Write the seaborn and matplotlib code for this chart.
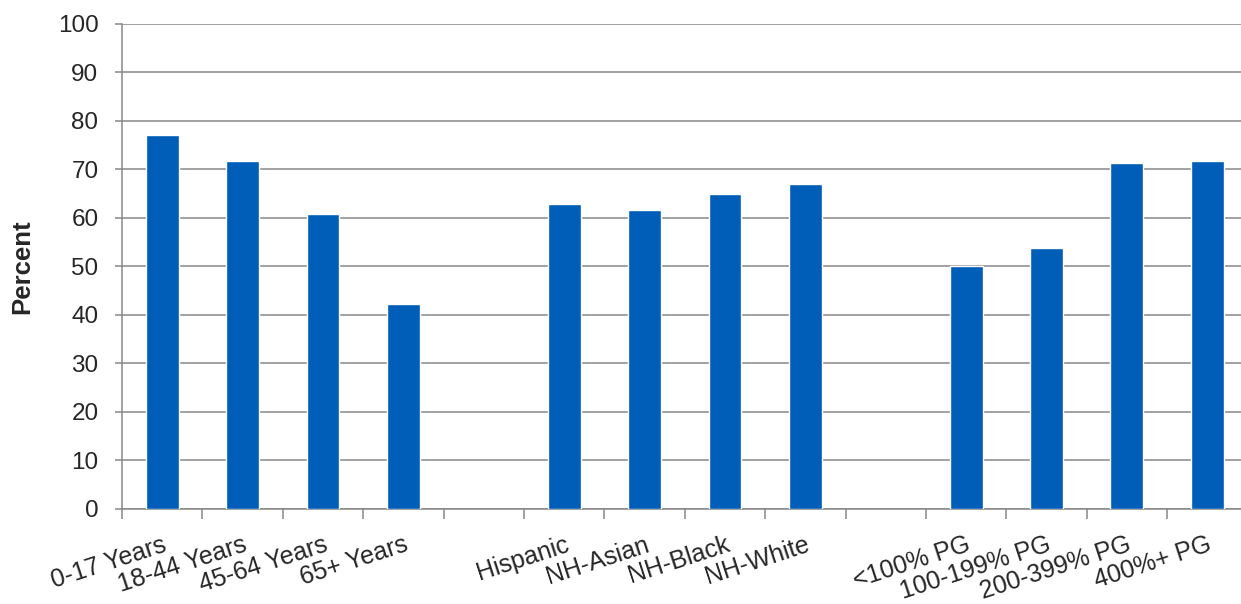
import numpy as np
import pandas as pd
import matplotlib
matplotlib.use("Agg")
import matplotlib.pyplot as plt
import seaborn as sns

# categories (blank entries are the gaps between groups)
categories = ["0-17 Years", "18-44 Years", "45-64 Years", "65+ Years", " ",
              "Hispanic", "NH-Asian", "NH-Black", "NH-White", "  ",
              "<100% PG", "100-199% PG", "200-399% PG", "400%+ PG"]
percent = [77.1, 71.8, 60.8, 42.3, np.nan,
           62.9, 61.6, 65.0, 67.0, np.nan,
           50.1, 53.8, 71.3, 71.8]

df = pd.DataFrame({"category": categories, "percent": percent})

sns.set_style("white")
plt.rcParams["font.family"] = ["Liberation Sans", "DejaVu Sans"]

grid_col = "#878787"
bar_col = "#005EB8"

fig = plt.figure(figsize=(12.41, 6.04), dpi=100)
ax = fig.add_axes([0.0983, 0.1573, 0.907, 0.803])

sns.barplot(data=df, x="category", y="percent", order=categories,
            color=bar_col, saturation=1, width=0.41, ax=ax, zorder=3)

ax.set_xlim(-0.5, 13.5)
ax.set_ylim(0, 100)
ax.set_yticks(range(0, 101, 10))
ax.yaxis.grid(True, color=grid_col, linewidth=1.1, zorder=0)
ax.set_axisbelow(True)

for side in ["top", "right"]:
    ax.spines[side].set_visible(False)
for side in ["left", "bottom"]:
    ax.spines[side].set_color(grid_col)
    ax.spines[side].set_linewidth(1.1)

ax.tick_params(axis="y", which="major", length=5, width=1.1, color=grid_col,
               labelsize=17.5, pad=12, left=True)
ax.tick_params(axis="x", which="major", length=0, labelsize=18, pad=17)
ax.set_xticks(np.arange(-0.5, 14, 1), minor=True)
ax.tick_params(axis="x", which="minor", length=7, width=1.1, color=grid_col,
               bottom=True)

labels = [c.strip() for c in categories]
ax.set_xticks(range(len(categories)))
ax.set_xticklabels(labels, rotation=18, ha="right", va="top",
                   rotation_mode="anchor")

ax.set_xlabel("")
ax.set_ylabel("Percent", fontsize=18.5, fontweight="bold", labelpad=17)

fig.savefig("out.png", dpi=100)
